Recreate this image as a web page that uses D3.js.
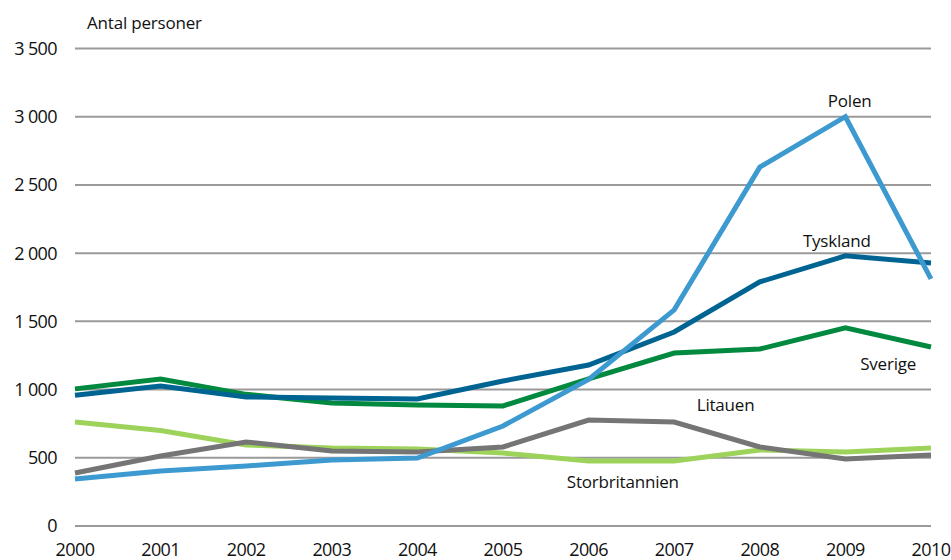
<!DOCTYPE html>
<meta charset="utf-8">
<head>
  <title>Antal personer per land</title>
</head>
<style>
body { margin: 0; background: #fff; }
text {
  font-family: "Open Sans", "Noto Sans", sans-serif;
  fill: #111;
}
.grid line { stroke: #9a9a9a; stroke-width: 2; }
.line { fill: none; stroke-width: 5; stroke-linejoin: miter; }
</style>
<body>
  <svg width="951" height="560"></svg>
  <script src="https://cdnjs.cloudflare.com/ajax/libs/d3/7.8.5/d3.min.js"></script>
  <script>
var years = [2000, 2001, 2002, 2003, 2004, 2005, 2006, 2007, 2008, 2009, 2010];
var yTicks = [0, 500, 1000, 1500, 2000, 2500, 3000, 3500];

var storbritannien = [762, 700, 594, 572, 565, 535, 477, 477, 557, 543, 572];
var litauen        = [389, 513, 616, 550, 543, 579, 777, 762, 579, 491, 520];
var sverige        = [1005, 1078, 965, 902, 887, 880, 1078, 1268, 1297, 1452, 1312];
var tyskland       = [958, 1026, 946, 938, 931, 1063, 1180, 1422, 1789, 1980, 1928];
var polen          = [345, 403, 440, 484, 498, 733, 1075, 1584, 2630, 3000, 1811];

var seriesNames  = ["Storbritannien", "Litauen", "Sverige", "Tyskland", "Polen"];
var seriesColors = ["#9dd35a", "#757575", "#00893f", "#006492", "#3d9ad0"];
var seriesValues = [storbritannien, litauen, sverige, tyskland, polen];

// label anchor points (year, value)
var labelYears  = [2006.4, 2007.6, 2009.5, 2008.9, 2009.05];
var labelValues = [280, 845, 1145, 2045, 3070];

var svg = d3.select('svg');

var x = d3.scaleLinear().domain([2000, 2010]).range([75, 931]);
var y = d3.scaleLinear().domain([0, 3500]).range([526, 48.5]);

// gridlines
svg.append('g').attr('class', 'grid')
  .selectAll('line')
  .data(yTicks)
  .enter()
  .append('line')
  .attr('x1', 75).attr('x2', 931)
  .attr('y1', function(d) { return y(d); })
  .attr('y2', function(d) { return y(d); });

// y tick labels
svg.append('g')
  .selectAll('text')
  .data(yTicks)
  .enter()
  .append('text')
  .attr('x', 57)
  .attr('y', function(d) { return y(d); })
  .attr('dy', '0.36em')
  .attr('text-anchor', 'end')
  .style('font-size', '18px')
  .style('letter-spacing', '-0.6px')
  .text(function(d) { return d >= 1000 ? d3.format(',')(d).replace(',', ' ') : d; });

// x tick labels
svg.append('g')
  .selectAll('text')
  .data(years)
  .enter()
  .append('text')
  .attr('x', function(d) { return x(d); })
  .attr('y', 556)
  .attr('text-anchor', 'middle')
  .style('font-size', '18px')
  .style('letter-spacing', '-0.6px')
  .text(function(d) { return d; });

// axis title
svg.append('text')
  .attr('x', 87).attr('y', 29)
  .style('font-size', '17px')
  .style('letter-spacing', '-0.2px')
  .text('Antal personer');

// lines
var line = d3.line()
  .x(function(d, i) { return x(years[i]); })
  .y(function(d) { return y(d); });

svg.append('g')
  .selectAll('path')
  .data(seriesValues)
  .enter()
  .append('path')
  .attr('class', 'line')
  .attr('stroke', function(d, i) { return seriesColors[i]; })
  .attr('d', line);

// series labels
svg.append('g')
  .selectAll('text')
  .data(seriesNames)
  .enter()
  .append('text')
  .attr('x', function(d, i) { return x(labelYears[i]); })
  .attr('y', function(d, i) { return y(labelValues[i]); })
  .attr('text-anchor', 'middle')
  .style('font-size', '17px')
  .style('letter-spacing', '-0.2px')
  .text(function(d) { return d; });
  </script>
</body>
</html>
